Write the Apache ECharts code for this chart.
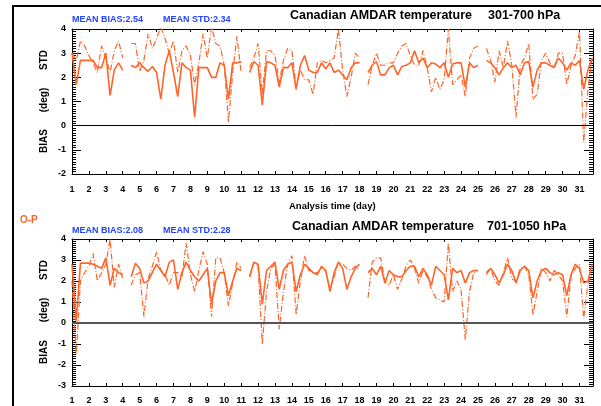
<!DOCTYPE html>
<html><head><meta charset="utf-8">
<script src="https://cdn.jsdelivr.net/npm/echarts@6/dist/echarts.min.js"></script>
<style>
html,body{margin:0;padding:0;background:#fff;overflow:hidden}
#wrap{position:relative;width:601px;height:406px}
#c{position:absolute;left:0;top:0;width:601px;height:406px}
#frame{position:absolute;left:12px;top:5px;width:700px;height:500px;border:2px solid #000;pointer-events:none}
</style>
</head><body><div id="wrap"><div id="c"></div><div id="frame"></div></div>
<script>
// ---- data (6-hourly, days 1.00 .. 31.75; null = missing) ----
const dayLabels = ['1','2','3','4','5','6','7','8','9','10','11','12','13','14','15','16','17','18','19','20','21','22','23','24','25','26','27','28','29','30','31'];
const yTicksTop = [-2,-1,0,1,2,3,4];
const yTicksBottom = [-3,-2,-1,0,1,2,3,4];

// 301-700 hPa
const stdUpper = [
 3.0,1.7,2.7,2.7,  2.7,2.7,2.4,2.4,  3.0,1.25,2.3,2.6,  2.3,null,2.5,2.4,
 2.6,2.4,2.25,2.45, 2.2,1.1,2.5,3.1, 2.2,1.2,2.6,2.4,  2.3,0.35,2.4,2.4,
 2.4,2.0,2.0,2.6,  2.5,1.1,2.6,2.6,  2.65,null,2.2,2.65, 2.5,0.85,2.65,2.6,
 2.5,1.6,2.4,2.4,  2.6,1.5,2.5,2.9,  2.3,2.2,2.2,2.6,  2.35,2.6,2.2,2.3,
 2.1,1.9,2.4,2.6,  2.6,null,2.2,2.5, 2.65,2.1,2.1,2.4, 2.5,2.1,2.45,2.5,
 2.6,3.1,2.6,2.8,  2.4,2.6,2.55,2.4, 2.6,2.0,2.55,2.6, 2.6,1.6,2.6,2.4,
 2.5,null,2.7,2.6, 2.4,2.1,2.4,2.6,  2.4,2.5,2.1,2.6,  2.65,1.6,2.3,2.6,
 2.6,2.5,2.4,2.8,  2.6,2.3,2.6,2.5,  2.7,1.5,2.3,2.8
];
const biasUpper = [
 3.0,2.7,3.5,3.3,  2.9,2.6,2.2,3.3,  2.8,2.2,3.1,3.5,  2.8,null,3.4,3.4,
 2.25,2.7,3.8,3.2, 3.6,4.1,3.6,3.0,  3.5,2.2,3.1,3.3,  2.9,1.7,2.6,3.8,
 2.8,4.1,3.4,3.3,  2.5,0.15,2.2,3.7, 2.2,null,2.4,2.8, 3.4,1.3,3.1,3.1,
 2.9,1.8,2.7,3.2,  3.1,1.6,2.3,1.9,  1.9,1.3,2.6,2.7,  2.6,2.7,2.8,4.0,
 2.3,1.2,2.0,3.0,  2.8,null,1.7,2.5, 3.0,2.5,2.5,2.6,  2.6,3.0,3.3,3.4,
 2.9,2.5,2.5,3.1,  2.4,1.4,2.0,1.5,  1.9,4.0,1.7,1.9,  2.1,1.2,2.8,3.2,
 3.3,null,3.2,2.7, 1.8,3.1,2.4,3.5,  2.5,0.35,2.5,2.8, 3.4,1.1,1.3,2.7,
 3.0,2.6,2.4,3.0,  3.0,1.7,2.5,2.9,  3.9,-0.7,1.5,2.8
];
// 701-1050 hPa
const stdLower = [
 2.8,0.1,2.85,2.85, 2.85,2.8,2.7,2.6, 3.1,1.8,2.6,2.4,  2.3,null,2.2,2.85,
 2.6,1.9,2.0,2.4,  2.8,2.5,2.2,2.9,  3.0,1.6,2.4,2.9,  2.5,2.2,2.0,2.3,
 2.6,0.9,2.0,2.4,  2.4,1.3,2.0,2.6,  2.5,null,2.2,2.9, 2.8,0.9,2.5,2.7,
 2.9,1.6,2.5,2.8,  2.9,1.5,2.3,2.8,  2.6,2.4,2.3,2.7,  2.5,1.5,2.4,2.9,
 2.6,1.6,2.2,2.6,  2.8,null,2.4,2.6, 2.3,2.7,1.9,2.5,  2.3,2.2,2.2,2.5,
 2.7,2.7,2.2,2.6,  2.3,1.8,2.7,2.5,  2.3,1.1,2.6,2.4,  2.5,1.9,2.4,2.5,
 2.5,null,2.4,2.6, 2.3,1.9,2.3,2.8,  2.5,1.9,2.5,2.7,  2.5,1.2,2.0,2.5,
 2.6,2.4,2.3,2.4,  2.3,1.3,2.3,2.8,  2.6,1.9,2.0,2.8
];
const biasLower = [
 2.0,-1.5,2.0,2.4, 2.7,3.3,2.0,2.4,  2.8,4.0,1.7,2.8,  2.1,null,1.8,2.3,
 2.4,0.3,2.1,2.7,  3.4,2.5,2.3,1.8,  2.4,2.4,2.2,3.8,  2.3,1.5,2.5,3.4,
 2.8,0.3,3.1,3.1,  2.4,0.8,1.9,2.9,  2.6,null,2.2,2.9, 2.7,-1.0,1.5,2.6,
 2.8,-0.3,1.5,2.8, 3.2,0.4,2.0,3.2,  2.5,2.4,2.4,2.6,  2.5,1.6,2.2,2.9,
 2.8,2.6,2.5,2.7,  2.5,null,1.2,2.9, 3.1,3.1,2.0,1.8,  2.3,1.6,2.1,2.7,
 3.0,2.6,1.9,2.5,  2.2,1.6,1.2,1.1,  1.0,3.8,1.5,2.0,  1.6,-0.8,1.5,2.4,
 2.5,null,2.3,2.6, 2.0,1.8,2.4,3.1,  2.1,2.0,2.6,2.7,  2.3,0.4,1.5,2.6,
 2.4,2.0,2.5,2.3,  2.0,0.3,2.2,2.6,  2.8,0.2,1.9,2.3
];
const times = [];
for (let i = 0; i < stdUpper.length; i++) times.push(1 + i / 4);

// ---- styling ----
const FONT = '"Liberation Sans", Arial, sans-serif';
const ORANGE = '#ff6428';
const BLUE = '#2244ff';
const X_MIN = 1, X_MAX = 31.8;
const DASH = [6, 2, 1, 2];

function pairs(arr) { return times.map((t, i) => [t, arr[i]]); }

function xAx(grid, pos, margin) {
  return {
    type: 'value', gridIndex: grid, position: pos, min: X_MIN, max: X_MAX, interval: 1,
    axisLine: { show: true, onZero: false, lineStyle: { color: '#000', width: 1 } },
    axisTick: { show: true, inside: true, length: 3, lineStyle: { color: '#000', width: 1 } },
    axisLabel: {
      show: pos === 'bottom', margin: margin, showMaxLabel: false,
      fontFamily: FONT, fontWeight: 'bold', fontSize: 9, color: '#000',
      formatter: v => (Number.isInteger(v) ? (dayLabels[v - 1] || '') : '')
    },
    splitLine: { show: false }
  };
}
function yAx(grid, pos, ticks) {
  return {
    type: 'value', gridIndex: grid, position: pos,
    min: ticks[0], max: ticks[ticks.length - 1], interval: 1,
    axisLine: { show: true, lineStyle: { color: '#000', width: 1 } },
    axisTick: { show: true, inside: true, length: 9, lineStyle: { color: '#000', width: 1 } },
    minorTick: { show: true, splitNumber: 10, length: 4, lineStyle: { color: '#000', width: 1 } },
    axisLabel: {
      show: pos === 'left', margin: 6, fontFamily: FONT, fontWeight: 'bold', fontSize: 9, color: '#000'
    },
    splitLine: { show: false }
  };
}
function txt(x, y, text, size, color, opts) {
  opts = opts || {};
  return {
    type: 'text', x: x, y: y, rotation: opts.rot || 0, silent: true,
    style: {
      text: text, fill: color, font: 'bold ' + size + 'px ' + FONT,
      align: opts.align || 'left', verticalAlign: 'middle',
      textAlign: opts.align || 'left', textVerticalAlign: 'middle'
    }
  };
}
function zeroLine(color, width) {
  return {
    silent: true, symbol: ['none', 'none'], label: { show: false },
    lineStyle: { color: color, width: width, type: 'solid' },
    data: [{ yAxis: 0 }]
  };
}

const chart = echarts.init(document.getElementById('c'));
chart.setOption({
  animation: false,
  grid: [
    { left: 72, top: 29, width: 521, height: 145 },
    { left: 72, top: 239, width: 521, height: 147 }
  ],
  xAxis: [xAx(0, 'bottom', 11), xAx(0, 'top', 0), xAx(1, 'bottom', 10), xAx(1, 'top', 0)],
  yAxis: [
    yAx(0, 'left', yTicksTop), yAx(0, 'right', yTicksTop),
    yAx(1, 'left', yTicksBottom), yAx(1, 'right', yTicksBottom)
  ],
  series: [
    { type: 'line', xAxisIndex: 0, yAxisIndex: 0, data: pairs(biasUpper), showSymbol: false, symbol: 'none',
      lineStyle: { color: ORANGE, width: 1.2, type: DASH }, markLine: zeroLine('#000', 1) },
    { type: 'line', xAxisIndex: 0, yAxisIndex: 0, data: pairs(stdUpper), showSymbol: false, symbol: 'none',
      lineStyle: { color: ORANGE, width: 1.6 } },
    { type: 'line', xAxisIndex: 2, yAxisIndex: 2, data: pairs(biasLower), showSymbol: false, symbol: 'none',
      lineStyle: { color: ORANGE, width: 1.2, type: DASH }, markLine: zeroLine('#555', 2) },
    { type: 'line', xAxisIndex: 2, yAxisIndex: 2, data: pairs(stdLower), showSymbol: false, symbol: 'none',
      lineStyle: { color: ORANGE, width: 1.6 } }
  ],
  graphic: [
    txt(72, 20, 'MEAN BIAS:2.54', 9, BLUE),
    txt(163, 20, 'MEAN STD:2.34', 9, BLUE),
    txt(290, 16, 'Canadian AMDAR temperature', 12.5, '#000'),
    txt(488, 16, '301-700 hPa', 12.5, '#000'),
    txt(44, 60, 'STD', 10, '#000', { rot: Math.PI / 2, align: 'center' }),
    txt(44, 100, '(deg)', 10, '#000', { rot: Math.PI / 2, align: 'center' }),
    txt(44, 141, 'BIAS', 10, '#000', { rot: Math.PI / 2, align: 'center' }),
    txt(289, 206, 'Analysis time (day)', 9.5, '#000'),
    txt(20, 220, 'O-P', 10, ORANGE),
    txt(72, 231, 'MEAN BIAS:2.08', 9, BLUE),
    txt(163, 231, 'MEAN STD:2.28', 9, BLUE),
    txt(292, 227, 'Canadian AMDAR temperature', 12.5, '#000'),
    txt(487, 227, '701-1050 hPa', 12.5, '#000'),
    txt(44, 270, 'STD', 10, '#000', { rot: Math.PI / 2, align: 'center' }),
    txt(44, 310, '(deg)', 10, '#000', { rot: Math.PI / 2, align: 'center' }),
    txt(44, 352, 'BIAS', 10, '#000', { rot: Math.PI / 2, align: 'center' })
  ]
});
</script>
</body></html>
